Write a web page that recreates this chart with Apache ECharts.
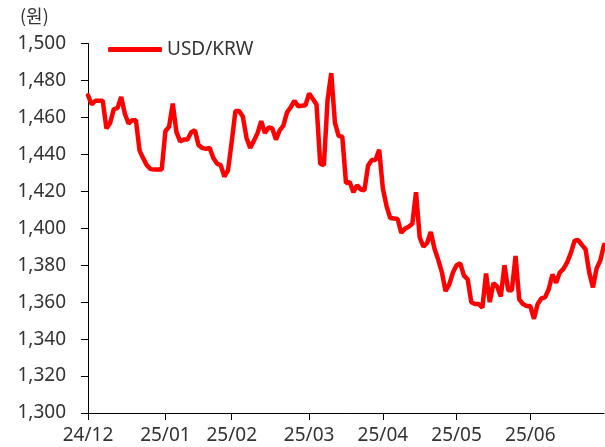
<!DOCTYPE html>
<html>
<head>
<meta charset="utf-8">
<script src="https://cdn.jsdelivr.net/npm/echarts@6/dist/echarts.min.js"></script>
<style>
html,body{margin:0;padding:0;background:#fff;}
#chart{width:605px;height:447px;}
</style>
</head>
<body>
<div id="chart"></div>
<script>
// Month tick labels and number of sampled points per month
const monthLabels = ['24/12','25/01','25/02','25/03','25/04','25/05','25/06'];
const monthLengths = [21, 18, 21, 20, 20, 20, 21];
const seriesName = 'USD/KRW';
const yTicks = { min: 1300, max: 1500, step: 20 };
const usdKrw = [
  1472,1467,1469,1469,1469,1454,1457,1464.5,1465,1471,
  1462,1456.7,1458.5,1458.5,1442,1437.8,1434,1432,1431.8,1431.8,
  1431.8,1452.5,1455,1467.5,1452,1447,1448,1448,1452,1453,
  1445,1443.5,1443,1443.5,1438,1435,1434.2,1428,1431.5,1447,
  1463.5,1463.5,1460.5,1449,1443.5,1447.3,1451.5,1458,1451.5,1454.6,
  1454,1448,1453,1455.5,1462.7,1465.5,1469,1466,1466.3,1466.6,
  1473,1470,1467,1435,1434.2,1469.5,1484,1457,1450,1449.5,
  1424.5,1425,1419.5,1423.3,1421,1420.6,1434,1437,1437,1442.5,
  1421.5,1412,1405.5,1405.3,1405,1397.5,1399.8,1400.8,1402.5,1419.5,
  1395,1390,1392,1398,1389,1383,1376.3,1366,1369.5,1376,
  1380,1381,1374.3,1372.5,1360,1359,1359,1357,1375.5,1360,
  1370.2,1368.5,1363,1380,1366.5,1366.5,1385,1361.5,1359,1357.9,
  1357.9,1351,1359,1362,1362.6,1367,1375,1370.5,1376,1378,
  1381.5,1386.5,1393.2,1393.6,1391,1388.6,1376,1368,1378.3,1382.5,
  1391
];

const categories = [];
const monthStart = {};
monthLabels.forEach((m, k) => {
  monthStart[categories.length] = m;
  for (let d = 0; d < monthLengths[k]; d++) categories.push(m + '#' + d);
});

const FONT = 'Noto Sans';
const chart = echarts.init(document.getElementById('chart'), null, {renderer: 'canvas'});
chart.setOption({
  animation: false,
  backgroundColor: '#ffffff',
  textStyle: { fontFamily: FONT },
  grid: { left: 88, right: 1, top: 43.5, bottom: 34, containLabel: false },
  legend: {
    data: [seriesName],
    left: 103, top: 35,
    icon: 'roundRect',
    itemWidth: 54, itemHeight: 5, itemGap: 10,
    textStyle: { fontFamily: FONT, fontSize: 19, color: '#333', padding: [0, 0, 0, 0] }
  },
  graphic: [{
    type: 'text', left: 20, top: 7,
    style: { text: '(원)', font: '18px "Noto Sans CJK KR"', fill: '#333' }
  }],
  xAxis: {
    type: 'category',
    data: categories,
    boundaryGap: false,
    axisLine: { lineStyle: { color: '#000', width: 1 } },
    axisTick: { show: true, length: 7, interval: (i) => monthStart[i] !== undefined, lineStyle: { color: '#000' } },
    axisLabel: {
      interval: (i) => monthStart[i] !== undefined,
      formatter: (v) => v.split('#')[0],
      fontFamily: FONT, fontSize: 19, color: '#333', margin: 13
    },
    splitLine: { show: false }
  },
  yAxis: {
    type: 'value',
    min: yTicks.min, max: yTicks.max, interval: yTicks.step,
    axisLine: { show: true, lineStyle: { color: '#000', width: 1 } },
    axisTick: { show: true, length: 7, lineStyle: { color: '#000' } },
    axisLabel: {
      formatter: (v) => v.toLocaleString('en-US'),
      fontFamily: FONT, fontSize: 19, color: '#333', margin: 22
    },
    splitLine: { show: false }
  },
  series: [{
    name: seriesName,
    type: 'line',
    data: usdKrw,
    symbol: 'none',
    color: '#ff0000',
    lineStyle: { color: '#ff0000', width: 4.5, cap: 'round', join: 'bevel' }
  }]
});
</script>
</body>
</html>
